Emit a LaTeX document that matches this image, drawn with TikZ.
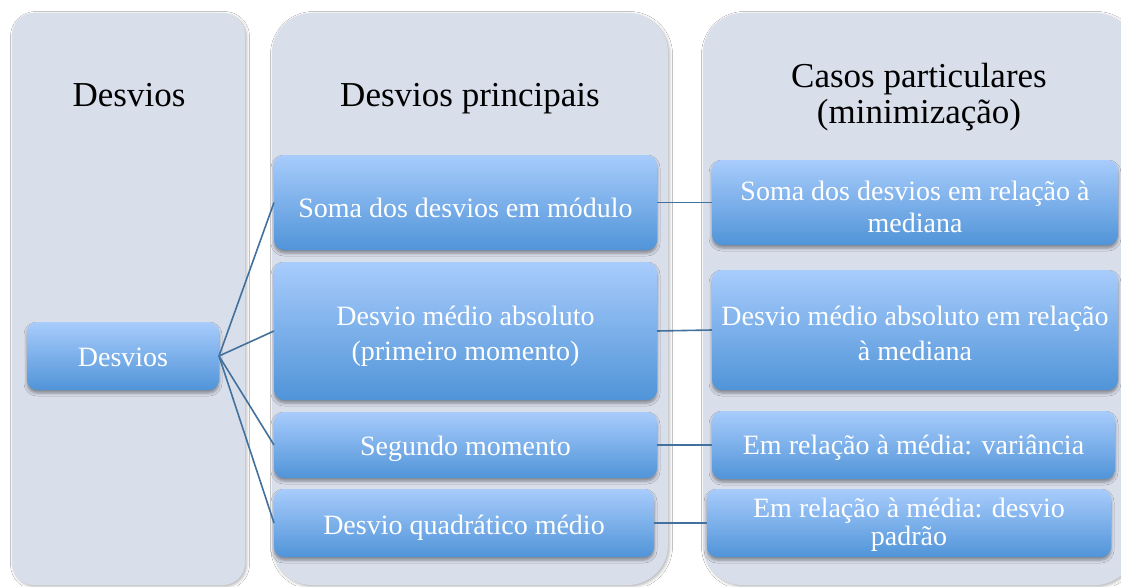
\documentclass[tikz,border=0pt]{standalone}
\usepackage{fontspec}
\setmainfont{Liberation Serif}
\usetikzlibrary{shadows.blur}
\definecolor{panelc}{RGB}{217,222,235}
\definecolor{boxtop}{RGB}{168,204,252}
\definecolor{boxbot}{RGB}{80,148,216}
\definecolor{linec}{RGB}{65,113,156}
\begin{document}
\begin{tikzpicture}[x=1pt,y=-1pt,
 panel/.style={fill=panelc, inner sep=0pt, outer sep=0pt, anchor=north west,
   blur shadow={shadow xshift=1.5pt, shadow yshift=-1.5pt, shadow blur radius=3pt, shadow opacity=30}},
 bluebox/.style={inner sep=0pt, outer sep=0pt, anchor=north west, rounded corners=10pt,
   top color=boxtop, bottom color=boxbot,
   blur shadow={shadow xshift=0pt, shadow yshift=-3pt, shadow blur radius=3pt, shadow opacity=40}},
 head/.style={font=\fontsize{35}{40}\selectfont, anchor=base, inner sep=0pt, text=black},
 btxt/.style={font=\fontsize{28}{32}\selectfont, anchor=base, inner sep=0pt, text=white},
 conn/.style={draw=linec, line width=1.6pt}]
\fill[white] (0,0) rectangle (1121,586);
\clip (0,0) rectangle (1121,586);
% panels
\node[panel, rounded corners=22pt, minimum width=233pt, minimum height=572pt] (p1) at (12,13) {};
\node[panel, rounded corners=40pt, minimum width=396pt, minimum height=572pt] (p2) at (272,13) {};
\node[panel, rounded corners=40pt, minimum width=432pt, minimum height=572pt] (p3) at (703,13) {};
% headers
\node[head] (h1) at (129,106) {Desvios};
\node[head] (h2) at (470,106) {Desvios principais};
\node[head] (h3a) at (919,88) {Casos particulares};
\node[head] (h3b) at (919,123) {(minimização)};
% boxes
\node[bluebox, minimum width=192pt, minimum height=68pt] (b0) at (27,322) {};
\node[bluebox, minimum width=383pt, minimum height=95pt] (s1) at (274,155) {};
\node[bluebox, minimum width=383pt, minimum height=138pt] (s2) at (274,262) {};
\node[bluebox, minimum width=383pt, minimum height=66pt] (s3) at (274,412) {};
\node[bluebox, minimum width=380pt, minimum height=68pt] (s4) at (274,489) {};
\node[bluebox, minimum width=406pt, minimum height=85pt] (c1) at (712,160) {};
\node[bluebox, minimum width=406pt, minimum height=120pt] (c2) at (712,270) {};
\node[bluebox, minimum width=403pt, minimum height=68pt] (c3) at (712,411) {};
\node[bluebox, minimum width=404pt, minimum height=68pt] (c4) at (707,489) {};
% connectors
\draw[conn] (b0.east) -- (s1.west);
\draw[conn] (b0.east) -- (s2.west);
\draw[conn] (b0.east) -- (s3.west);
\draw[conn] (b0.east) -- (s4.west);
\draw[conn] (s1.east) -- (c1.west);
\draw[conn] (s2.east) -- (c2.west);
\draw[conn] (s3.east) -- (c3.west);
\draw[conn] (s4.east) -- (c4.west);
% box texts
\node[btxt] (t0) at (123,366) {Desvios};
\node[btxt] (t1) at (465.5,217) {Soma dos desvios em módulo};
\node[btxt] (t2a) at (465.5,325) {Desvio médio absoluto};
\node[btxt] (t2b) at (465.5,360) {(primeiro momento)};
\node[btxt] (t3) at (465.5,455) {Segundo momento};
\node[btxt] (t4) at (464,534) {Desvio quadrático médio};
\node[btxt] (u1a) at (915,200) {Soma dos desvios em relação à};
\node[btxt] (u1b) at (915,232) {mediana};
\node[btxt] (u2a) at (915,325) {Desvio médio absoluto em relação};
\node[btxt] (u2b) at (915,360) {à mediana};
\node[btxt] (u3) at (913.5,454) {Em relação à média: variância};
\node[btxt] (u4a) at (909,517) {Em relação à média: desvio};
\node[btxt] (u4b) at (909,545) {padrão};
\end{tikzpicture}
\end{document}
